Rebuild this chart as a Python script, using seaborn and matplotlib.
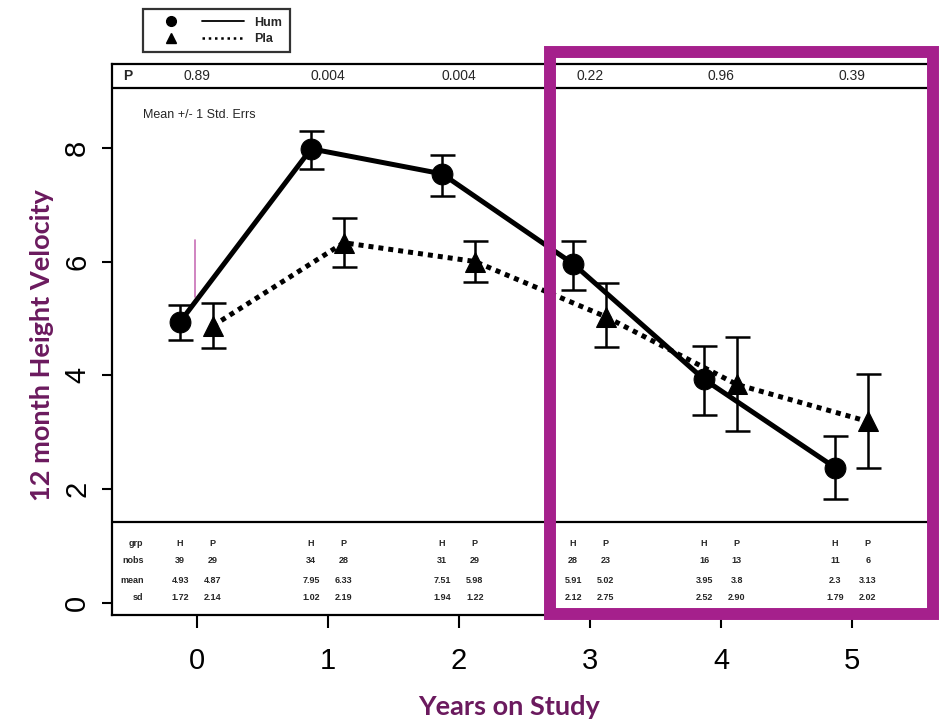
import numpy as np
import pandas as pd
import matplotlib
matplotlib.use('Agg')
import matplotlib.pyplot as plt
import seaborn as sns
from matplotlib.patches import Rectangle
from matplotlib.lines import Line2D
from matplotlib.legend_handler import HandlerTuple

# ---------------- data ----------------
years = [0, 1, 2, 3, 4, 5]
hum_mean = [4.94, 7.98, 7.54, 5.96, 3.93, 2.38]
hum_lo = [4.62, 7.63, 7.15, 5.50, 3.30, 1.83]
hum_hi = [5.24, 8.30, 7.87, 6.36, 4.51, 2.93]
pla_mean = [4.87, 6.33, 6.00, 5.03, 3.84, 3.19]
pla_lo = [4.48, 5.91, 5.64, 4.50, 3.03, 2.38]
pla_hi = [5.27, 6.77, 6.36, 5.62, 4.67, 4.02]
p_values = ['0.89', '0.004', '0.004', '0.22', '0.96', '0.39']
row_labels = ['grp', 'nobs', 'mean', 'sd']
grp_labels = ['H', 'P']
nobs_h = ['39', '34', '31', '28', '16', '11']
nobs_p = ['29', '28', '29', '23', '13', '6']
mean_h = ['4.93', '7.95', '7.51', '5.91', '3.95', '2.3']
mean_p = ['4.87', '6.33', '5.98', '5.02', '3.8', '3.13']
sd_h = ['1.72', '1.02', '1.94', '2.12', '2.52', '1.79']
sd_p = ['2.14', '2.19', '1.22', '2.75', '2.90', '2.02']
y_ticks = [0, 2, 4, 6, 8]

# ---------------- style ----------------
sns.set_style('white')
plt.rcParams['font.family'] = ['Liberation Sans', 'DejaVu Sans']

OFF_H, OFF_P = -0.13, 0.12
purple = '#6b1a5e'
magenta = '#a5208c'

fig = plt.figure(figsize=(9.39, 7.23), dpi=100)
ax = fig.add_axes([112 / 939, 1 - 615 / 723, (932 - 112) / 939, (615 - 64) / 723])

df = pd.DataFrame({
    'x': [y + OFF_H for y in years] + [y + OFF_P for y in years],
    'velocity': hum_mean + pla_mean,
    'group': ['Hum'] * len(years) + ['Pla'] * len(years),
})

sns.lineplot(data=df, x='x', y='velocity', hue='group', style='group',
             markers={'Hum': 'o', 'Pla': '^'},
             dashes={'Hum': '', 'Pla': (1, 1)},
             palette={'Hum': 'black', 'Pla': 'black'},
             linewidth=3.6, markersize=15, markeredgecolor='black',
             legend=False, ax=ax, zorder=3)

for off, m, lo, hi in [(OFF_H, hum_mean, hum_lo, hum_hi), (OFF_P, pla_mean, pla_lo, pla_hi)]:
    xs = np.array(years) + off
    m = np.array(m)
    ax.errorbar(xs, m, yerr=[m - np.array(lo), np.array(hi) - m], fmt='none',
                ecolor='black', elinewidth=1.8, capsize=9, capthick=1.8, zorder=4)

# thin pink stroke near year 0
ax.plot([-0.015, -0.015], [5.38, 6.38], color='#c86fb6', lw=1.2, zorder=2)

ax.set_xlim(-0.65, 5.61)
ax.set_ylim(-0.21, 9.47)
ax.set_xticks(years)
ax.set_xticklabels([str(y) for y in years], fontsize=21)
ax.set_yticks(y_ticks)
ax.set_yticklabels([str(t) for t in y_ticks], fontsize=21, rotation=90, va='center')
ax.tick_params(axis='x', direction='out', length=9, width=1.5, pad=14, bottom=True, colors='black')
ax.tick_params(axis='y', direction='out', length=7, width=1.5, pad=8, left=True, colors='black')
for s in ax.spines.values():
    s.set_color('black')
    s.set_linewidth(1.6)
ax.set_xlabel('')
ax.set_ylabel('')

# p-value strip
ax.axhline(9.05, color='black', lw=1.6)
ax.text(-0.53, 9.26, 'P', fontsize=10, fontweight='bold', ha='center', va='center')
for y, p in zip(years, p_values):
    ax.text(y, 9.26, p, fontsize=10, ha='center', va='center')

ax.text(-0.41, 8.58, 'Mean +/- 1 Std. Errs', fontsize=9, ha='left', va='center')

# table strip
ax.axhline(1.42, color='black', lw=1.6)
row_y = [1.05, 0.74, 0.40, 0.09]
for lab, yy in zip(row_labels, row_y):
    ax.text(-0.41, yy, lab, fontsize=6.5, fontweight='bold', ha='right', va='center')
for i, y in enumerate(years):
    cols = [(y + OFF_H, [grp_labels[0], nobs_h[i], mean_h[i], sd_h[i]]),
            (y + OFF_P, [grp_labels[1], nobs_p[i], mean_p[i], sd_p[i]])]
    for cx, vals in cols:
        for v, yy in zip(vals, row_y):
            ax.text(cx, yy, v, fontsize=6.5, fontweight='bold', ha='center', va='center')

# legend
h_m = Line2D([], [], marker='o', color='black', linestyle='none', markersize=7)
h_l = Line2D([], [], color='black', linestyle='-', lw=1.3)
p_m = Line2D([], [], marker='^', color='black', linestyle='none', markersize=7)
p_l = Line2D([], [], color='black', linestyle=(0, (1, 1.5)), lw=1.8)
leg = fig.legend(handles=[(h_m, h_l), (p_m, p_l)], labels=['Hum', 'Pla'],
                 handler_map={tuple: HandlerTuple(ndivide=2, pad=0.8)},
                 loc='upper left', bbox_to_anchor=(143 / 939, 1 - 9 / 723),
                 frameon=True, fancybox=False, edgecolor='black',
                 handlelength=7.5, handletextpad=0.8, labelspacing=0.35,
                 borderpad=0.6, borderaxespad=0,
                 prop={'weight': 'bold', 'size': 9})
leg.get_frame().set_linewidth(1.6)

# axis labels
fig.text(42 / 939, 1 - 345 / 723, '12 month Height Velocity', rotation=90,
         ha='center', va='center', fontsize=19.5, fontweight='bold', color=purple,
         family=['Lato', 'DejaVu Sans'])
fig.text(509 / 939, 1 - 707 / 723, 'Years on Study', ha='center', va='center',
         fontsize=19.5, fontweight='bold', color=purple, family=['Lato', 'DejaVu Sans'])

# highlight rectangle
rect = Rectangle((550 / 939, 1 - 614 / 723), (933 - 550) / 939, (614 - 52) / 723,
                 transform=fig.transFigure, fill=False, edgecolor=magenta,
                 linewidth=8.6, zorder=10)
fig.add_artist(rect)

fig.savefig('out.png', dpi=100)
